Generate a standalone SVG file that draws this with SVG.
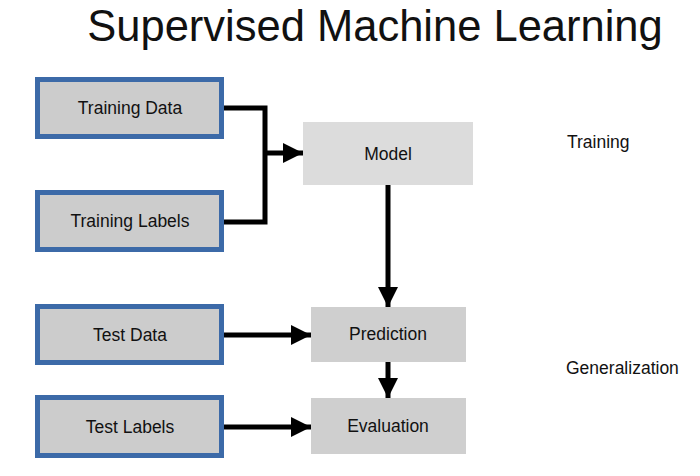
<svg xmlns="http://www.w3.org/2000/svg" width="700" height="476" viewBox="0 0 700 476">
<defs>
<style>
text{font-family:"Liberation Sans",Arial,sans-serif;fill:#111}
.in{fill:#cccccc;stroke:#3c6aa8;stroke-width:5}
.gray{fill:#cfcfcf}
.lbl{font-size:17.5px;text-anchor:middle}
.side{font-size:17.5px}
.conn{fill:none;stroke:#000;stroke-width:5}
</style>
<marker id="ah" viewBox="0 0 10 10" refX="10" refY="5" markerWidth="4.4" markerHeight="4" markerUnits="strokeWidth" orient="auto">
<path d="M0,0L10,5L0,10z" fill="#000"/>
</marker>
</defs>
<rect width="700" height="476" fill="#fff"/>
<text x="375" y="41" font-size="43.5" text-anchor="middle">Supervised Machine Learning</text>
<g id="training-data"><rect class="in" x="37.5" y="79.5" width="184" height="57"/><text class="lbl" x="130" y="114">Training Data</text></g>
<g id="training-labels"><rect class="in" x="37.5" y="192.5" width="184" height="57"/><text class="lbl" x="130" y="227">Training Labels</text></g>
<g id="test-data"><rect class="in" x="37.5" y="306.5" width="184" height="56"/><text class="lbl" x="130" y="341">Test Data</text></g>
<g id="test-labels"><rect class="in" x="37.5" y="397.5" width="184" height="58"/><text class="lbl" x="130" y="433">Test Labels</text></g>
<g id="model"><rect x="303" y="122" width="170" height="63" fill="#dcdcdc"/><text class="lbl" x="388" y="160">Model</text></g>
<g id="prediction"><rect class="gray" x="311" y="307" width="155" height="55"/><text class="lbl" x="388" y="340">Prediction</text></g>
<g id="evaluation"><rect class="gray" x="311" y="398" width="155" height="56"/><text class="lbl" x="388" y="432">Evaluation</text></g>
<text class="side" x="567" y="148">Training</text>
<text class="side" x="566" y="374">Generalization</text>
<g id="connectors">
<path class="conn" d="M224,108H265V222H224"/>
<path class="conn" d="M265,153H303" marker-end="url(#ah)"/>
<path class="conn" d="M388,185V307" marker-end="url(#ah)"/>
<path class="conn" d="M388,362V398" marker-end="url(#ah)"/>
<path class="conn" d="M224,335H311" marker-end="url(#ah)"/>
<path class="conn" d="M224,427H311" marker-end="url(#ah)"/>
</g>
</svg>
